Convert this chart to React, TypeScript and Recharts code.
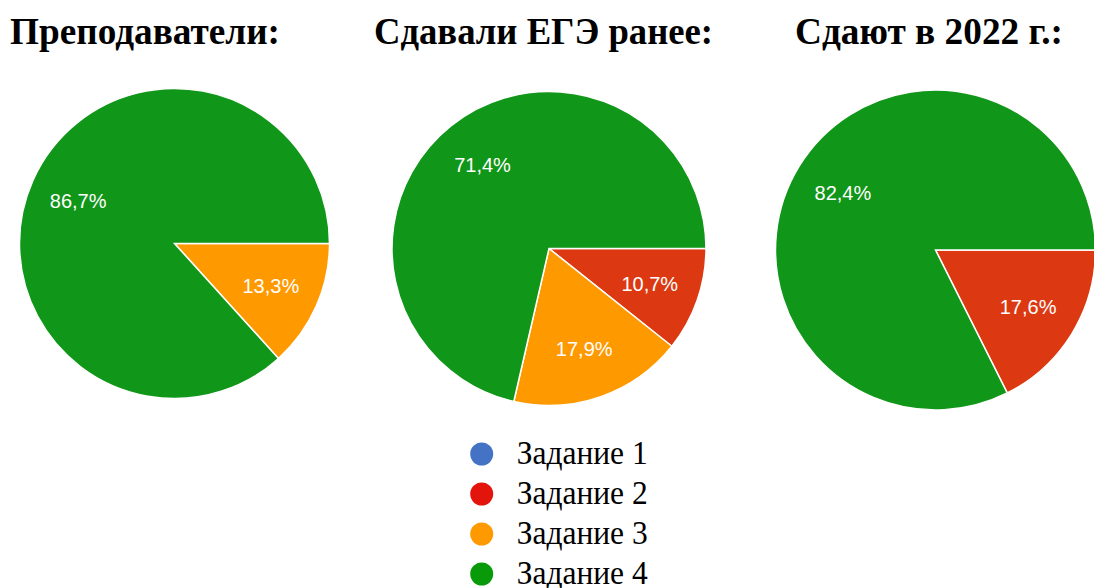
import React from 'react';
import { PieChart, Pie, Cell, Legend } from 'recharts';

const categories = ['Задание 1', 'Задание 2', 'Задание 3', 'Задание 4'];
const teachersValues = [0, 0, 13.3, 86.7];
const earlierValues = [0, 10.7, 17.9, 71.4];
const year2022Values = [0, 17.6, 0, 82.4];
const titles = ['Преподаватели:', 'Сдавали ЕГЭ ранее:', 'Сдают в 2022 г.:'];

const sliceColors = ['#3366cc', '#dc3912', '#ff9900', '#109618'];
const legendColors = ['#4472c4', '#e2140c', '#ff9900', '#089a08'];

const toData = (vals: number[]) => categories.map((name, i) => ({ name, value: vals[i] }));
const teachersData = toData(teachersValues);
const earlierData = toData(earlierValues);
const year2022Data = toData(year2022Values);

const RADIAN = Math.PI / 180;
const renderLabel = (props: any) => {
  const { cx, cy, midAngle, outerRadius, value } = props;
  if (!value) return null;
  const r = outerRadius * 0.68;
  const x = cx + r * Math.cos(-midAngle * RADIAN);
  const y = cy + r * Math.sin(-midAngle * RADIAN);
  return (
    <text
      x={x}
      y={y}
      fill="#ffffff"
      textAnchor="middle"
      dominantBaseline="central"
      fontFamily="'Liberation Sans', Arial, sans-serif"
      fontSize={20}
    >
      {value.toFixed(1).replace('.', ',') + '%'}
    </text>
  );
};

const LegendContent = () => (
  <svg width={200} height={150} style={{ overflow: 'visible', display: 'block' }}>
    {categories.map((c, i) => (
      <g key={c}>
        <circle cx={16.7} cy={16 + i * 40} r={11.5} fill={legendColors[i]} />
        <text
          x={51.7}
          y={25.5 + i * 40}
          fontFamily="'Liberation Serif', 'Times New Roman', serif"
          fontSize={33}
          textLength={131}
          lengthAdjust="spacingAndGlyphs"
          fill="#000"
        >
          {c}
        </text>
      </g>
    ))}
  </svg>
);

const titleX = [10, 374, 795];
const titleW = [270, 339, 268];

export default function App() {
  const pies = [
    { data: teachersData, cx: 174.5, cy: 243.5, r: 155 },
    { data: earlierData, cx: 549, cy: 248.5, r: 157 },
    { data: year2022Data, cx: 935.5, cy: 250, r: 160 },
  ];
  return (
    <div style={{ position: 'absolute', left: 0, top: 0, width: 1094, height: 588, background: '#fff', overflow: 'hidden' }}>
      <PieChart width={1094} height={588} margin={{ top: 0, right: 0, bottom: 0, left: 0 }}>
        {titles.map((t, i) => (
          <text
            key={t}
            x={titleX[i]}
            y={43.5}
            fontFamily="'Liberation Serif', 'Times New Roman', serif"
            fontWeight="bold"
            fontSize={38}
            textLength={titleW[i]}
            lengthAdjust="spacingAndGlyphs"
            fill="#000"
          >
            {t}
          </text>
        ))}
        {pies.map((p, pi) => (
          <Pie
            key={pi}
            data={p.data}
            dataKey="value"
            nameKey="name"
            cx={p.cx}
            cy={p.cy}
            outerRadius={p.r}
            startAngle={0}
            endAngle={-360}
            stroke="#ffffff"
            strokeWidth={1.5}
            label={renderLabel}
            labelLine={false}
            isAnimationActive={false}
          >
            {p.data.map((d, i) => (
              <Cell key={d.name} fill={sliceColors[i]} />
            ))}
          </Pie>
        ))}
        <Legend
          layout="horizontal"
          verticalAlign="bottom"
          content={LegendContent}
          wrapperStyle={{ left: 465, top: 438, width: 200, height: 150 }}
        />
      </PieChart>
    </div>
  );
}
